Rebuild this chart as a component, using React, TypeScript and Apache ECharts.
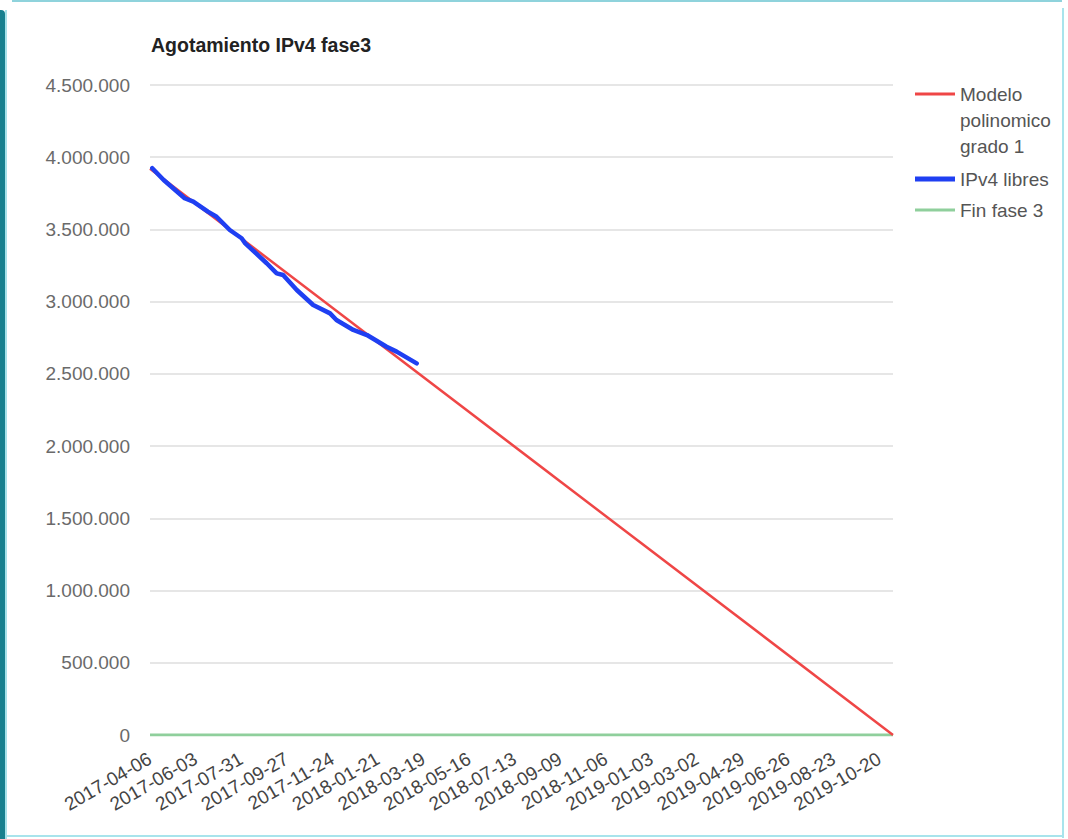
import React, { useEffect, useRef } from "react";
import * as echarts from "echarts";

const tickLabels = [
  "2017-04-06", "2017-06-03", "2017-07-31", "2017-09-27", "2017-11-24",
  "2018-01-21", "2018-03-19", "2018-05-16", "2018-07-13", "2018-09-09",
  "2018-11-06", "2019-01-03", "2019-03-02", "2019-04-29", "2019-06-26",
  "2019-08-23", "2019-10-20",
];

const seriesNames = ["Modelo polinomico grado 1", "IPv4 libres", "Fin fase 3"];

// x positions are in label-slot units (0 = first label, 16 = last label);
// the axis runs a little past the last label
const axisEnd = 16.3;

const modelX = [0, 16.3];
const modelY = [3920000, 0];

const freeX = [
  0.05, 0.30, 0.76, 0.95, 1.27, 1.46, 1.75, 2.01, 2.09, 2.56, 2.78,
  2.92, 3.22, 3.58, 3.95, 4.09, 4.46, 4.76, 5.19, 5.41, 5.85,
];
const freeY = [
  3924000, 3842000, 3716000, 3692000, 3623000, 3588000, 3496000, 3439000,
  3404000, 3266000, 3196000, 3185000, 3081000, 2977000, 2919000, 2873000,
  2804000, 2769000, 2688000, 2654000, 2573000,
];

const endX = [0, 16.3];
const endY = [0, 0];

const pairs = (xs: number[], ys: number[]) => xs.map((x, i) => [x, ys[i]]);
const thousands = (v: number) =>
  String(Math.round(v)).replace(/\B(?=(\d{3})+(?!\d))/g, ".");

const FONT = "'Liberation Sans', Arial, sans-serif";
const RED = "#ef4646";
const BLUE = "#1f3ff2";
const GREEN = "#8fcf9c";

export default function App() {
  const ref = useRef<HTMLDivElement>(null);

  useEffect(() => {
    if (!ref.current) return;
    const chart = echarts.init(ref.current, undefined, { renderer: "svg" });
    const legendBase = {
      orient: "vertical" as const,
      left: 915,
      padding: 0,
      itemWidth: 40,
      icon: "rect",
      textStyle: { fontFamily: FONT, fontSize: 19, color: "#555", lineHeight: 26 },
      selectedMode: false as const,
    };
    chart.setOption({
      animation: false,
      backgroundColor: "transparent",
      title: {
        text: "Agotamiento IPv4 fase3",
        left: 151,
        top: 35,
        padding: 0,
        textStyle: { fontFamily: FONT, fontSize: 19.5, fontWeight: "bold", color: "#222" },
      },
      legend: [
        {
          ...legendBase,
          top: 29,
          itemHeight: 3,
          data: [seriesNames[0]],
          formatter: () => "\n\nModelo\npolinomico\ngrado 1",
        },
        { ...legendBase, top: 166, itemHeight: 5, data: [seriesNames[1]] },
        { ...legendBase, top: 197, itemHeight: 3, data: [seriesNames[2]] },
      ],
      grid: { left: 150, right: 175, top: 85, bottom: 104, containLabel: false },
      xAxis: {
        type: "value",
        min: 0,
        max: axisEnd,
        interval: 1,
        axisLine: { show: false },
        axisTick: { show: false },
        splitLine: { show: false },
        axisLabel: {
          rotate: 30,
          margin: 22,
          fontFamily: FONT,
          fontSize: 19,
          color: "#444",
          showMinLabel: true,
          showMaxLabel: false,
          formatter: (v: number) =>
            Math.abs(v - Math.round(v)) < 1e-6 ? tickLabels[Math.round(v)] ?? "" : "",
        },
      },
      yAxis: {
        type: "value",
        min: 0,
        max: 4500000,
        interval: 500000,
        axisLine: { show: false },
        axisTick: { show: false },
        splitLine: { lineStyle: { color: "#e6e6e6", width: 2 } },
        axisLabel: {
          margin: 20,
          fontFamily: FONT,
          fontSize: 19,
          color: "#6a6a6a",
          formatter: (v: number) => thousands(v),
        },
      },
      series: [
        {
          name: seriesNames[0],
          type: "line",
          symbol: "none",
          showSymbol: false,
          data: pairs(modelX, modelY),
          lineStyle: { color: RED, width: 2.5 },
          itemStyle: { color: RED },
          z: 3,
        },
        {
          name: seriesNames[1],
          type: "line",
          symbol: "none",
          showSymbol: false,
          data: pairs(freeX, freeY),
          lineStyle: { color: BLUE, width: 4.5, cap: "round", join: "round" },
          itemStyle: { color: BLUE },
          z: 4,
        },
        {
          name: seriesNames[2],
          type: "line",
          symbol: "none",
          showSymbol: false,
          data: pairs(endX, endY),
          lineStyle: { color: GREEN, width: 3 },
          itemStyle: { color: GREEN },
          z: 2,
        },
      ],
    });
    return () => chart.dispose();
  }, []);

  return (
    <div
      style={{
        position: "fixed",
        left: 0,
        top: 0,
        width: 1068,
        height: 839,
        background: "#ffffff",
        overflow: "hidden",
      }}
    >
      <div style={{ position: "absolute", left: 0, top: 10, width: 5, height: 829, background: "#17808f", borderTopRightRadius: 4 }} />
      <div style={{ position: "absolute", left: 5, top: 10, width: 2, height: 829, background: "#a6e2ea" }} />
      <div style={{ position: "absolute", left: 12, top: 0, width: 1050, height: 2, background: "#8fd3dc" }} />
      <div style={{ position: "absolute", left: 1062, top: 8, width: 2, height: 830, background: "#a8e4ec" }} />
      <div style={{ position: "absolute", left: 7, top: 835, width: 1057, height: 2, background: "#a8e4ec" }} />
      <div ref={ref} style={{ position: "absolute", left: 0, top: 0, width: 1068, height: 839 }} />
    </div>
  );
}
